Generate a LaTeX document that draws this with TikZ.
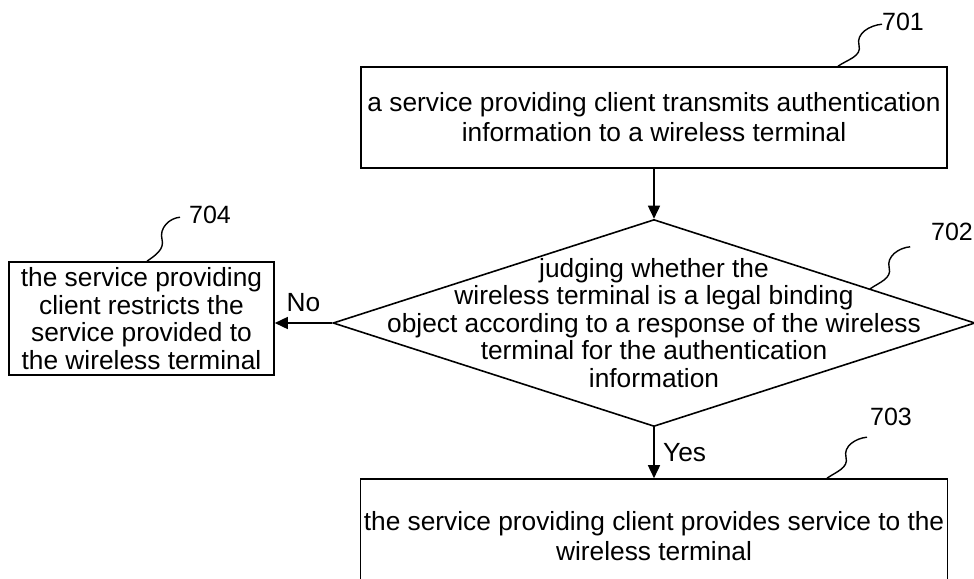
\documentclass[tikz,border=0pt]{standalone}
\usepackage{fontspec}
\setmainfont{Liberation Sans}
\usetikzlibrary{shapes.geometric, arrows.meta}

\begin{document}
\begin{tikzpicture}[x=1pt, y=1pt, line width=1.6pt,
    procbox/.style={draw, rectangle, align=center, inner sep=0pt},
    widetext/.style={font=\fontsize{26.3}{30}\selectfont},
    narrowtext/.style={font=\fontsize{26.3}{27.5}\selectfont},
    flowarrow/.style={-{Triangle[length=13pt,width=12pt]}},
    refline/.style={line width=1.4pt},
    reflabel/.style={font=\fontsize{25}{30}\selectfont, inner sep=0pt}]

\useasboundingbox (0,0) rectangle (974,-578);

% Draw steps.
\node[procbox, widetext, minimum width=586pt, minimum height=101pt]
(transmit) at (654,-117.5)
{a service providing client transmits authentication\\information to a wireless terminal};

\node[diamond, draw, minimum width=642pt, minimum height=207pt, inner sep=0pt]
(judge) at (654,-323) {};
\node[narrowtext, align=center] (judgetext) at (judge.center)
{judging whether the\\wireless terminal is a legal binding\\object according to a response of the wireless\\terminal for the authentication\\information};

\node[procbox, widetext, minimum width=587pt, minimum height=114pt]
(serve) at (654,-536)
{the service providing client provides service to the\\wireless terminal};

\node[procbox, narrowtext, minimum width=265pt, minimum height=113pt]
(restrict) at (141.5,-318.5)
{the service providing\\client restricts the\\service provided to\\the wireless terminal};

% Draw flow.
\draw[flowarrow] (transmit.south) -- (transmit.south |- judge.north);
\draw[flowarrow] (judge.west) -- node[widetext, above=7pt] {No} (judge.west -| restrict.east);
\draw[flowarrow] (judge.south) -- node[widetext, right=5pt] {Yes} (judge.south |- serve.north);

% Draw reference numbers.
\node[reflabel] (lab701) at (903,-22) {701};
\node[reflabel] (lab702) at (952,-232) {702};
\node[reflabel] (lab703) at (891,-417) {703};
\node[reflabel] (lab704) at (210,-215) {704};

\draw[refline] ([xshift=184pt]transmit.north) to[out=35,in=-75] ++(21,21) to[out=105,in=185] ++(23,21);
\draw[refline] (judge.9) to[out=35,in=-75] ++(19,21) to[out=105,in=185] ++(21,21);
\draw[refline] ([xshift=173pt]serve.north) to[out=35,in=-75] ++(19,21) to[out=105,in=185] ++(21,20);
\draw[refline] ([xshift=5.5pt]restrict.north) to[out=35,in=-75] ++(15,22) to[out=105,in=185] ++(18,22);

\end{tikzpicture}
\end{document}
